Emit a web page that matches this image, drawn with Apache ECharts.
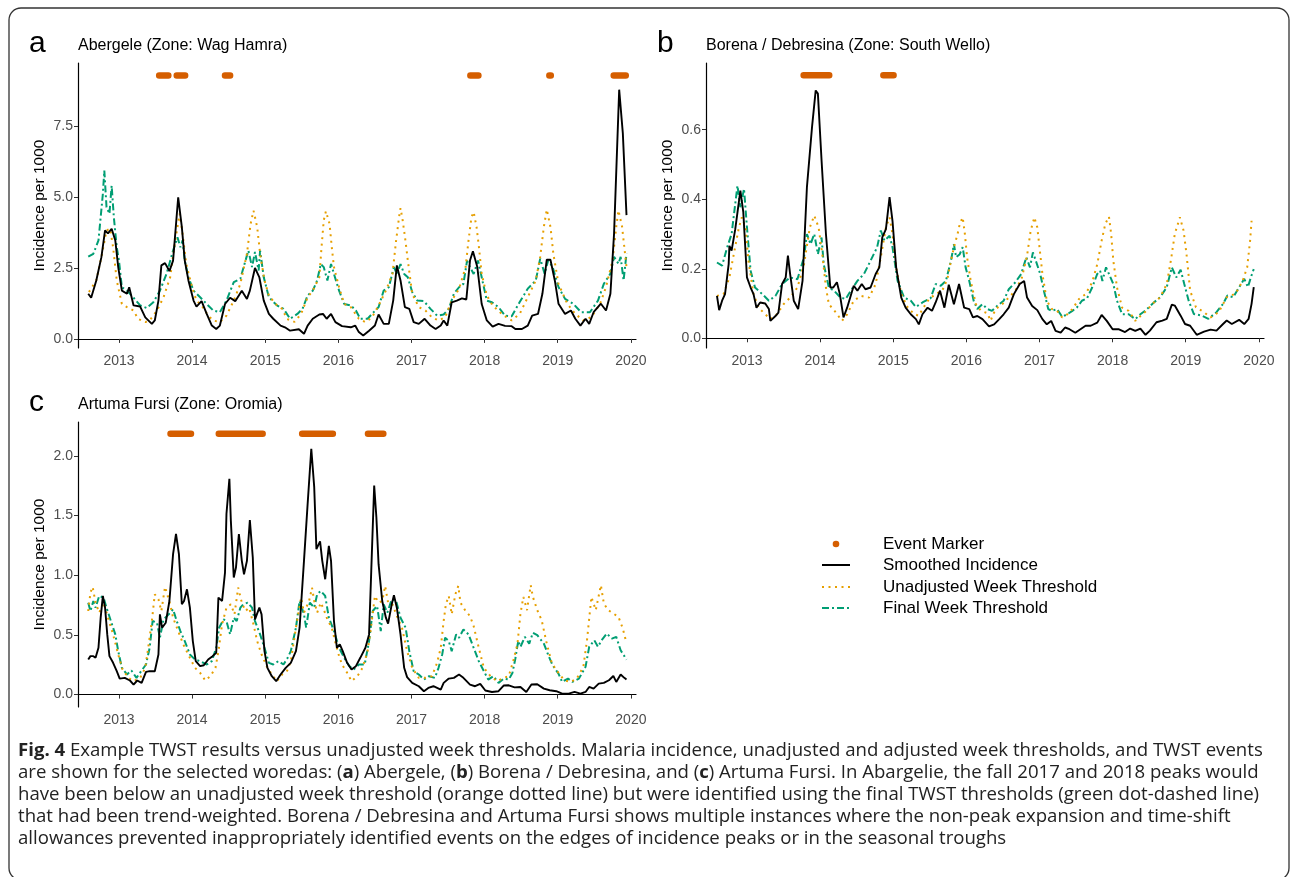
<!DOCTYPE html>
<html>
<head>
<meta charset="utf-8">
<script src="https://cdn.jsdelivr.net/npm/echarts@6/dist/echarts.min.js"></script>
<style>
html, body { margin: 0; padding: 0; background: #fff; }
#fig { width: 1292px; height: 877px; }
</style>
</head>
<body>
<div id="fig"></div>
<script>
// x values are decimal years (week of the series)
var yearTicks = [2013, 2014, 2015, 2016, 2017, 2018, 2019, 2020];

// panel a - Abergele
var aTicks = [0, 2.5, 5, 7.5];
var aEventLevel = 9.28;
var aEvents = [[2013.55, 2013.675], [2013.79, 2013.905], [2014.45, 2014.52], [2017.805, 2017.915], [2018.885, 2018.905], [2019.765, 2019.93]];
var aInc = [[2012.58,1.59],[2012.62,1.45],[2012.69,2.06],[2012.76,2.88],[2012.81,3.82],[2012.85,3.72],[2012.90,3.88],[2012.95,3.47],[2012.99,2.53],[2013.04,1.70],[2013.11,1.59],[2013.14,1.82],[2013.20,1.18],[2013.29,1.14],[2013.36,0.76],[2013.45,0.53],[2013.49,0.65],[2013.54,1.35],[2013.58,2.59],[2013.63,2.67],[2013.69,2.39],[2013.74,2.76],[2013.81,4.99],[2013.86,3.94],[2013.90,2.76],[2013.95,2.06],[2014.02,1.35],[2014.06,1.14],[2014.13,1.33],[2014.20,0.88],[2014.27,0.47],[2014.33,0.35],[2014.38,0.47],[2014.45,1.23],[2014.52,1.45],[2014.59,1.33],[2014.68,1.70],[2014.75,1.41],[2014.79,1.70],[2014.86,2.50],[2014.92,2.17],[2014.98,1.35],[2015.05,0.88],[2015.11,0.71],[2015.21,0.47],[2015.27,0.41],[2015.34,0.29],[2015.46,0.34],[2015.53,0.18],[2015.58,0.47],[2015.65,0.71],[2015.74,0.86],[2015.79,0.88],[2015.84,0.71],[2015.90,0.88],[2015.96,0.59],[2016.05,0.45],[2016.17,0.41],[2016.23,0.47],[2016.28,0.24],[2016.34,0.12],[2016.42,0.29],[2016.50,0.47],[2016.55,0.86],[2016.62,0.53],[2016.69,0.53],[2016.75,1.35],[2016.80,2.59],[2016.85,2.06],[2016.91,1.12],[2016.97,1.06],[2017.03,0.59],[2017.10,0.53],[2017.18,0.71],[2017.26,0.47],[2017.33,0.35],[2017.40,0.47],[2017.44,0.65],[2017.49,0.47],[2017.55,1.29],[2017.62,1.35],[2017.69,1.43],[2017.75,1.39],[2017.80,2.76],[2017.84,3.09],[2017.90,2.53],[2017.96,1.23],[2018.03,0.65],[2018.11,0.43],[2018.19,0.53],[2018.28,0.46],[2018.37,0.45],[2018.42,0.35],[2018.51,0.35],[2018.59,0.47],[2018.65,0.82],[2018.73,0.88],[2018.79,1.59],[2018.85,2.79],[2018.90,2.79],[2018.96,2.06],[2019.01,1.24],[2019.10,0.88],[2019.18,1.00],[2019.24,0.71],[2019.31,0.47],[2019.38,0.71],[2019.43,0.53],[2019.49,0.94],[2019.59,1.24],[2019.66,1.00],[2019.72,1.59],[2019.77,3.71],[2019.84,8.78],[2019.89,7.24],[2019.94,4.36]];
var aUnadj = [[2012.59,1.65],[2012.69,2.06],[2012.76,2.88],[2012.83,3.82],[2012.88,3.88],[2012.92,3.23],[2012.97,2.06],[2013.04,1.23],[2013.11,1.12],[2013.20,1.00],[2013.26,0.71],[2013.36,0.59],[2013.42,0.65],[2013.52,1.00],[2013.61,1.47],[2013.70,2.17],[2013.77,3.47],[2013.83,4.41],[2013.87,3.70],[2013.92,2.64],[2014.00,1.82],[2014.06,1.35],[2014.13,1.18],[2014.22,0.82],[2014.29,0.65],[2014.38,0.59],[2014.47,0.82],[2014.57,1.35],[2014.66,1.94],[2014.75,3.00],[2014.80,4.05],[2014.84,4.52],[2014.89,3.94],[2014.93,3.00],[2014.99,2.06],[2015.05,1.53],[2015.14,1.23],[2015.23,1.06],[2015.30,0.70],[2015.40,0.60],[2015.49,0.88],[2015.58,1.47],[2015.65,1.70],[2015.74,2.17],[2015.77,3.23],[2015.80,4.17],[2015.83,4.50],[2015.88,4.05],[2015.91,3.23],[2015.94,2.53],[2016.01,1.82],[2016.08,1.23],[2016.17,1.12],[2016.28,0.71],[2016.37,0.59],[2016.46,0.76],[2016.55,1.18],[2016.65,1.70],[2016.74,2.29],[2016.79,3.47],[2016.83,4.29],[2016.85,4.61],[2016.88,4.17],[2016.92,3.41],[2016.95,2.76],[2017.01,1.59],[2017.10,1.12],[2017.19,1.00],[2017.28,0.76],[2017.37,0.65],[2017.46,0.76],[2017.55,1.35],[2017.65,1.76],[2017.74,2.53],[2017.78,3.47],[2017.82,4.29],[2017.85,4.47],[2017.89,3.94],[2017.92,3.29],[2017.96,2.29],[2018.03,1.53],[2018.11,1.18],[2018.21,0.94],[2018.30,0.76],[2018.37,0.65],[2018.48,0.88],[2018.59,1.47],[2018.70,2.06],[2018.76,2.89],[2018.81,3.95],[2018.85,4.56],[2018.90,3.95],[2018.94,3.00],[2019.01,1.94],[2019.13,1.24],[2019.24,0.88],[2019.35,0.65],[2019.46,0.77],[2019.58,1.24],[2019.66,1.83],[2019.75,2.77],[2019.80,3.95],[2019.83,4.53],[2019.88,3.95],[2019.92,3.00],[2019.94,2.53]];
var aFinal = [[2012.58,2.90],[2012.65,3.00],[2012.72,3.47],[2012.78,5.11],[2012.80,5.93],[2012.83,4.64],[2012.87,4.41],[2012.90,5.40],[2012.93,4.29],[2012.97,3.23],[2013.00,2.76],[2013.04,1.82],[2013.11,1.70],[2013.20,1.45],[2013.29,1.18],[2013.38,1.09],[2013.47,1.29],[2013.56,1.70],[2013.65,2.29],[2013.74,3.11],[2013.80,3.58],[2013.84,3.23],[2013.87,3.47],[2013.90,2.76],[2013.95,2.17],[2014.02,1.70],[2014.11,1.47],[2014.20,1.23],[2014.29,1.00],[2014.38,0.94],[2014.47,1.35],[2014.57,2.00],[2014.66,2.12],[2014.73,2.76],[2014.77,3.11],[2014.82,2.53],[2014.86,3.06],[2014.91,2.41],[2014.93,3.11],[2014.98,2.17],[2015.05,1.47],[2015.16,1.18],[2015.25,1.06],[2015.34,0.71],[2015.44,0.88],[2015.51,1.06],[2015.58,1.53],[2015.65,1.70],[2015.71,2.06],[2015.76,2.64],[2015.80,2.53],[2015.85,2.06],[2015.90,2.64],[2015.94,2.29],[2016.01,1.70],[2016.08,1.23],[2016.17,1.18],[2016.24,1.00],[2016.30,0.71],[2016.40,0.71],[2016.46,0.88],[2016.55,1.12],[2016.62,1.70],[2016.69,1.82],[2016.76,2.53],[2016.80,2.29],[2016.85,2.64],[2016.90,2.29],[2016.95,2.17],[2017.01,1.65],[2017.08,1.35],[2017.17,1.33],[2017.26,1.06],[2017.35,0.82],[2017.44,0.86],[2017.51,1.06],[2017.58,1.59],[2017.65,1.82],[2017.71,1.94],[2017.76,2.76],[2017.80,2.53],[2017.85,2.29],[2017.91,2.76],[2017.96,2.17],[2018.03,1.35],[2018.10,1.29],[2018.19,1.12],[2018.28,0.82],[2018.37,0.80],[2018.48,1.30],[2018.59,1.77],[2018.70,2.06],[2018.76,2.83],[2018.82,2.30],[2018.87,2.77],[2018.93,2.53],[2019.01,1.83],[2019.10,1.41],[2019.21,1.24],[2019.32,0.94],[2019.44,0.94],[2019.55,1.35],[2019.63,1.94],[2019.72,2.30],[2019.77,2.89],[2019.83,2.65],[2019.86,2.89],[2019.90,2.06],[2019.94,3.00]];

// panel b - Borena / Debresina
var bTicks = [0, 0.2, 0.4, 0.6];
var bEventLevel = 0.757;
var bEvents = [[2013.775, 2014.125], [2014.865, 2015.005]];
var bInc = [[2012.59,0.122],[2012.62,0.081],[2012.66,0.108],[2012.70,0.127],[2012.75,0.213],[2012.76,0.266],[2012.79,0.252],[2012.84,0.314],[2012.91,0.425],[2012.95,0.363],[2013.00,0.175],[2013.05,0.146],[2013.09,0.127],[2013.13,0.088],[2013.18,0.103],[2013.25,0.100],[2013.30,0.084],[2013.32,0.050],[2013.39,0.064],[2013.43,0.074],[2013.48,0.156],[2013.53,0.175],[2013.56,0.238],[2013.59,0.185],[2013.64,0.108],[2013.70,0.084],[2013.76,0.165],[2013.82,0.435],[2013.89,0.608],[2013.94,0.713],[2013.97,0.704],[2014.02,0.512],[2014.08,0.300],[2014.14,0.146],[2014.18,0.146],[2014.23,0.161],[2014.27,0.127],[2014.32,0.060],[2014.37,0.088],[2014.46,0.151],[2014.51,0.137],[2014.57,0.156],[2014.62,0.141],[2014.69,0.146],[2014.76,0.185],[2014.81,0.204],[2014.85,0.290],[2014.90,0.314],[2014.95,0.406],[2014.99,0.338],[2015.04,0.204],[2015.11,0.117],[2015.17,0.088],[2015.24,0.069],[2015.31,0.055],[2015.35,0.040],[2015.40,0.069],[2015.47,0.088],[2015.53,0.079],[2015.58,0.103],[2015.64,0.137],[2015.70,0.088],[2015.76,0.154],[2015.83,0.098],[2015.90,0.156],[2015.97,0.088],[2016.04,0.084],[2016.09,0.060],[2016.15,0.064],[2016.22,0.055],[2016.31,0.034],[2016.38,0.040],[2016.45,0.055],[2016.51,0.069],[2016.58,0.088],[2016.65,0.127],[2016.73,0.156],[2016.79,0.165],[2016.83,0.117],[2016.90,0.093],[2016.97,0.081],[2017.04,0.055],[2017.10,0.040],[2017.16,0.050],[2017.22,0.021],[2017.29,0.016],[2017.35,0.031],[2017.41,0.026],[2017.49,0.016],[2017.56,0.026],[2017.63,0.036],[2017.70,0.036],[2017.79,0.045],[2017.85,0.067],[2017.92,0.050],[2018.00,0.026],[2018.08,0.026],[2018.17,0.018],[2018.24,0.028],[2018.31,0.021],[2018.38,0.028],[2018.45,0.010],[2018.51,0.022],[2018.60,0.046],[2018.68,0.051],[2018.74,0.056],[2018.81,0.097],[2018.85,0.094],[2018.93,0.065],[2018.99,0.041],[2019.06,0.036],[2019.15,0.010],[2019.25,0.019],[2019.34,0.025],[2019.42,0.022],[2019.51,0.041],[2019.56,0.051],[2019.63,0.041],[2019.73,0.053],[2019.80,0.041],[2019.86,0.056],[2019.90,0.099],[2019.93,0.147]];
var bUnadj = [[2012.59,0.122],[2012.68,0.127],[2012.76,0.175],[2012.82,0.242],[2012.89,0.319],[2012.93,0.348],[2012.98,0.319],[2013.02,0.223],[2013.09,0.127],[2013.16,0.088],[2013.25,0.069],[2013.32,0.055],[2013.41,0.069],[2013.50,0.098],[2013.59,0.117],[2013.69,0.146],[2013.78,0.213],[2013.86,0.319],[2013.92,0.353],[2013.98,0.319],[2014.03,0.242],[2014.08,0.146],[2014.12,0.098],[2014.19,0.081],[2014.30,0.050],[2014.37,0.069],[2014.46,0.108],[2014.56,0.122],[2014.67,0.117],[2014.76,0.156],[2014.83,0.233],[2014.90,0.319],[2014.95,0.348],[2014.99,0.300],[2015.04,0.204],[2015.11,0.127],[2015.20,0.088],[2015.29,0.069],[2015.35,0.065],[2015.40,0.084],[2015.49,0.113],[2015.58,0.127],[2015.67,0.137],[2015.74,0.170],[2015.79,0.223],[2015.83,0.262],[2015.88,0.300],[2015.91,0.329],[2015.95,0.348],[2015.98,0.300],[2016.01,0.233],[2016.06,0.165],[2016.13,0.098],[2016.20,0.079],[2016.29,0.072],[2016.33,0.050],[2016.40,0.084],[2016.49,0.098],[2016.58,0.117],[2016.67,0.137],[2016.76,0.175],[2016.83,0.238],[2016.88,0.310],[2016.93,0.348],[2016.97,0.319],[2017.00,0.262],[2017.04,0.185],[2017.10,0.108],[2017.17,0.084],[2017.24,0.079],[2017.31,0.060],[2017.38,0.069],[2017.45,0.084],[2017.54,0.113],[2017.63,0.127],[2017.72,0.161],[2017.79,0.213],[2017.85,0.281],[2017.90,0.329],[2017.95,0.350],[2017.98,0.300],[2018.01,0.223],[2018.06,0.146],[2018.13,0.088],[2018.22,0.079],[2018.31,0.050],[2018.38,0.064],[2018.45,0.077],[2018.57,0.104],[2018.65,0.118],[2018.74,0.156],[2018.80,0.228],[2018.85,0.300],[2018.92,0.348],[2018.97,0.310],[2019.01,0.243],[2019.06,0.137],[2019.14,0.089],[2019.25,0.075],[2019.34,0.060],[2019.45,0.075],[2019.56,0.118],[2019.68,0.128],[2019.78,0.166],[2019.84,0.204],[2019.88,0.281],[2019.90,0.338]];
var bFinal = [[2012.59,0.218],[2012.66,0.209],[2012.73,0.262],[2012.79,0.300],[2012.87,0.439],[2012.91,0.377],[2012.96,0.430],[2013.00,0.319],[2013.05,0.194],[2013.11,0.146],[2013.21,0.127],[2013.30,0.108],[2013.39,0.122],[2013.48,0.156],[2013.59,0.175],[2013.69,0.170],[2013.78,0.233],[2013.82,0.300],[2013.87,0.271],[2013.92,0.300],[2013.97,0.242],[2014.02,0.290],[2014.05,0.213],[2014.12,0.146],[2014.19,0.137],[2014.28,0.117],[2014.35,0.113],[2014.42,0.137],[2014.51,0.165],[2014.60,0.185],[2014.69,0.223],[2014.78,0.262],[2014.83,0.310],[2014.88,0.281],[2014.95,0.295],[2014.99,0.262],[2015.06,0.165],[2015.15,0.117],[2015.24,0.108],[2015.31,0.090],[2015.40,0.103],[2015.51,0.115],[2015.58,0.156],[2015.65,0.151],[2015.72,0.165],[2015.79,0.223],[2015.83,0.271],[2015.86,0.233],[2015.91,0.242],[2015.95,0.262],[2015.99,0.204],[2016.04,0.165],[2016.10,0.108],[2016.15,0.084],[2016.22,0.098],[2016.29,0.084],[2016.35,0.079],[2016.42,0.093],[2016.51,0.108],[2016.58,0.141],[2016.67,0.161],[2016.75,0.185],[2016.82,0.233],[2016.87,0.204],[2016.91,0.247],[2016.95,0.223],[2017.01,0.185],[2017.06,0.137],[2017.12,0.084],[2017.17,0.079],[2017.24,0.084],[2017.31,0.062],[2017.38,0.069],[2017.45,0.079],[2017.51,0.088],[2017.58,0.108],[2017.65,0.115],[2017.72,0.146],[2017.79,0.185],[2017.83,0.194],[2017.86,0.165],[2017.91,0.204],[2017.95,0.185],[2018.01,0.156],[2018.06,0.108],[2018.13,0.069],[2018.22,0.069],[2018.31,0.055],[2018.38,0.069],[2018.45,0.080],[2018.57,0.104],[2018.65,0.118],[2018.74,0.147],[2018.81,0.204],[2018.87,0.175],[2018.93,0.197],[2018.98,0.156],[2019.04,0.108],[2019.11,0.070],[2019.22,0.065],[2019.31,0.056],[2019.42,0.075],[2019.51,0.099],[2019.57,0.123],[2019.65,0.118],[2019.73,0.147],[2019.80,0.171],[2019.85,0.147],[2019.89,0.175],[2019.93,0.199]];

// panel c - Artuma Fursi
var cTicks = [0, 0.5, 1, 1.5, 2];
var cEventLevel = 2.185;
var cEvents = [[2013.705, 2013.985], [2014.365, 2014.965], [2015.505, 2015.925], [2016.405, 2016.615]];
var cInc = [[2012.58,0.294],[2012.61,0.322],[2012.65,0.322],[2012.68,0.308],[2012.72,0.392],[2012.75,0.644],[2012.78,0.826],[2012.81,0.728],[2012.84,0.504],[2012.87,0.322],[2012.92,0.266],[2012.97,0.196],[2013.01,0.134],[2013.08,0.140],[2013.15,0.118],[2013.20,0.084],[2013.25,0.118],[2013.31,0.098],[2013.37,0.190],[2013.42,0.196],[2013.49,0.196],[2013.54,0.336],[2013.56,0.672],[2013.59,0.560],[2013.64,0.602],[2013.69,0.784],[2013.74,1.176],[2013.78,1.345],[2013.82,1.176],[2013.86,0.756],[2013.89,0.784],[2013.93,0.882],[2013.97,0.728],[2014.01,0.448],[2014.05,0.280],[2014.11,0.238],[2014.16,0.246],[2014.22,0.294],[2014.28,0.322],[2014.33,0.350],[2014.36,0.812],[2014.41,0.784],[2014.45,1.022],[2014.47,1.513],[2014.51,1.807],[2014.53,1.457],[2014.57,0.980],[2014.60,1.064],[2014.64,1.345],[2014.68,1.120],[2014.71,1.008],[2014.75,1.120],[2014.79,1.462],[2014.83,1.148],[2014.86,0.630],[2014.92,0.728],[2014.95,0.672],[2014.99,0.364],[2015.03,0.224],[2015.09,0.154],[2015.15,0.112],[2015.21,0.168],[2015.28,0.224],[2015.35,0.266],[2015.42,0.364],[2015.47,0.560],[2015.53,1.120],[2015.58,1.597],[2015.63,2.059],[2015.67,1.737],[2015.70,1.218],[2015.75,1.283],[2015.78,1.120],[2015.82,0.966],[2015.87,1.246],[2015.90,1.120],[2015.94,0.616],[2015.98,0.392],[2016.02,0.420],[2016.06,0.364],[2016.12,0.266],[2016.18,0.210],[2016.24,0.238],[2016.30,0.308],[2016.37,0.392],[2016.42,0.504],[2016.45,1.036],[2016.49,1.751],[2016.52,1.485],[2016.55,1.092],[2016.60,0.784],[2016.65,0.644],[2016.68,0.594],[2016.73,0.756],[2016.76,0.832],[2016.80,0.728],[2016.85,0.504],[2016.90,0.224],[2016.94,0.146],[2017.01,0.098],[2017.10,0.070],[2017.17,0.028],[2017.23,0.056],[2017.30,0.070],[2017.40,0.042],[2017.44,0.098],[2017.51,0.134],[2017.58,0.140],[2017.65,0.168],[2017.71,0.140],[2017.80,0.084],[2017.87,0.070],[2017.94,0.090],[2018.01,0.034],[2018.10,0.022],[2018.19,0.028],[2018.26,0.076],[2018.33,0.078],[2018.41,0.060],[2018.49,0.064],[2018.57,0.022],[2018.64,0.084],[2018.72,0.087],[2018.81,0.050],[2018.89,0.036],[2018.98,0.028],[2019.06,0.008],[2019.15,0.008],[2019.23,0.022],[2019.31,0.008],[2019.38,0.022],[2019.43,0.064],[2019.49,0.050],[2019.56,0.092],[2019.63,0.098],[2019.70,0.120],[2019.76,0.156],[2019.80,0.106],[2019.86,0.168],[2019.91,0.140],[2019.94,0.126]];
var cUnadj = [[2012.58,0.700],[2012.61,0.854],[2012.64,0.902],[2012.68,0.770],[2012.73,0.686],[2012.79,0.770],[2012.85,0.644],[2012.92,0.504],[2012.99,0.336],[2013.05,0.210],[2013.13,0.140],[2013.20,0.112],[2013.29,0.140],[2013.36,0.224],[2013.40,0.392],[2013.45,0.616],[2013.49,0.840],[2013.54,0.798],[2013.58,0.700],[2013.63,0.902],[2013.66,0.840],[2013.70,0.756],[2013.74,0.644],[2013.81,0.532],[2013.88,0.420],[2013.97,0.308],[2014.04,0.224],[2014.11,0.182],[2014.18,0.118],[2014.25,0.154],[2014.32,0.224],[2014.36,0.364],[2014.41,0.588],[2014.47,0.728],[2014.53,0.756],[2014.58,0.672],[2014.63,0.896],[2014.68,0.770],[2014.73,0.700],[2014.78,0.728],[2014.84,0.588],[2014.89,0.448],[2014.95,0.336],[2015.02,0.238],[2015.09,0.168],[2015.16,0.112],[2015.23,0.168],[2015.30,0.200],[2015.35,0.280],[2015.42,0.560],[2015.49,0.812],[2015.53,0.686],[2015.60,0.784],[2015.64,0.896],[2015.67,0.784],[2015.71,0.686],[2015.76,0.770],[2015.80,0.714],[2015.85,0.630],[2015.91,0.560],[2015.96,0.434],[2016.01,0.322],[2016.05,0.252],[2016.12,0.182],[2016.18,0.112],[2016.26,0.154],[2016.33,0.224],[2016.40,0.364],[2016.44,0.532],[2016.50,0.826],[2016.55,0.770],[2016.60,0.784],[2016.64,0.910],[2016.68,0.770],[2016.74,0.756],[2016.80,0.658],[2016.87,0.560],[2016.94,0.364],[2017.01,0.224],[2017.10,0.140],[2017.19,0.140],[2017.28,0.154],[2017.35,0.266],[2017.40,0.392],[2017.44,0.616],[2017.47,0.756],[2017.51,0.826],[2017.55,0.672],[2017.60,0.840],[2017.64,0.910],[2017.67,0.770],[2017.74,0.700],[2017.80,0.658],[2017.85,0.574],[2017.92,0.392],[2017.99,0.224],[2018.08,0.154],[2018.17,0.112],[2018.26,0.140],[2018.33,0.154],[2018.40,0.300],[2018.45,0.427],[2018.49,0.679],[2018.53,0.818],[2018.58,0.707],[2018.63,0.916],[2018.66,0.818],[2018.72,0.707],[2018.78,0.623],[2018.85,0.427],[2018.92,0.260],[2019.01,0.182],[2019.09,0.120],[2019.18,0.106],[2019.26,0.134],[2019.35,0.232],[2019.40,0.455],[2019.46,0.818],[2019.52,0.707],[2019.59,0.916],[2019.63,0.763],[2019.69,0.707],[2019.76,0.679],[2019.83,0.651],[2019.89,0.553],[2019.93,0.455]];
var cFinal = [[2012.58,0.770],[2012.61,0.700],[2012.65,0.784],[2012.68,0.728],[2012.73,0.826],[2012.79,0.812],[2012.83,0.728],[2012.89,0.616],[2012.95,0.504],[2012.99,0.364],[2013.04,0.224],[2013.11,0.168],[2013.17,0.202],[2013.24,0.140],[2013.31,0.202],[2013.37,0.252],[2013.42,0.392],[2013.46,0.616],[2013.52,0.602],[2013.56,0.476],[2013.61,0.630],[2013.68,0.672],[2013.74,0.714],[2013.79,0.616],[2013.84,0.532],[2013.90,0.448],[2013.97,0.336],[2014.04,0.294],[2014.11,0.280],[2014.20,0.252],[2014.27,0.280],[2014.33,0.392],[2014.37,0.560],[2014.43,0.630],[2014.47,0.616],[2014.52,0.504],[2014.57,0.644],[2014.61,0.616],[2014.66,0.728],[2014.70,0.756],[2014.76,0.770],[2014.82,0.728],[2014.86,0.616],[2014.93,0.504],[2014.99,0.392],[2015.05,0.266],[2015.11,0.252],[2015.18,0.280],[2015.25,0.252],[2015.30,0.300],[2015.35,0.364],[2015.42,0.560],[2015.47,0.784],[2015.53,0.672],[2015.56,0.560],[2015.61,0.770],[2015.67,0.728],[2015.71,0.840],[2015.76,0.868],[2015.82,0.826],[2015.87,0.644],[2015.94,0.532],[2016.01,0.392],[2016.08,0.308],[2016.15,0.238],[2016.21,0.210],[2016.28,0.252],[2016.36,0.252],[2016.42,0.448],[2016.47,0.700],[2016.53,0.742],[2016.58,0.532],[2016.62,0.756],[2016.67,0.686],[2016.73,0.798],[2016.79,0.784],[2016.85,0.644],[2016.92,0.560],[2016.97,0.364],[2017.03,0.196],[2017.10,0.168],[2017.17,0.126],[2017.24,0.154],[2017.32,0.140],[2017.37,0.224],[2017.42,0.336],[2017.46,0.476],[2017.51,0.448],[2017.55,0.364],[2017.61,0.504],[2017.65,0.476],[2017.71,0.546],[2017.78,0.504],[2017.85,0.392],[2017.92,0.280],[2017.99,0.196],[2018.05,0.126],[2018.12,0.154],[2018.19,0.098],[2018.26,0.134],[2018.33,0.126],[2018.38,0.180],[2018.42,0.300],[2018.46,0.450],[2018.49,0.400],[2018.55,0.483],[2018.61,0.427],[2018.66,0.517],[2018.72,0.497],[2018.81,0.427],[2018.88,0.316],[2018.93,0.246],[2019.01,0.176],[2019.06,0.106],[2019.14,0.134],[2019.20,0.106],[2019.29,0.134],[2019.38,0.232],[2019.43,0.400],[2019.50,0.455],[2019.55,0.400],[2019.60,0.455],[2019.67,0.511],[2019.74,0.469],[2019.80,0.483],[2019.86,0.371],[2019.94,0.293]];

var panels = [
	{ letter: 'a', title: 'Abergele (Zone: Wag Hamra)', ticks: aTicks, min: -0.32, max: 9.72, inc: aInc, unadj: aUnadj, fin: aFinal, events: aEvents, level: aEventLevel, left: 78, top: 63 },
	{ letter: 'b', title: 'Borena / Debresina (Zone: South Wello)', ticks: bTicks, min: -0.028, max: 0.792, inc: bInc, unadj: bUnadj, fin: bFinal, events: bEvents, level: bEventLevel, left: 706, top: 63 },
	{ letter: 'c', title: 'Artuma Fursi (Zone: Oromia)', ticks: cTicks, min: -0.104, max: 2.283, inc: cInc, unadj: cUnadj, fin: cFinal, events: cEvents, level: cEventLevel, left: 78, top: 422 }
];

var BLACK = '#000000', ORANGE = '#E69F00', GREEN = '#009E73', RED = '#D55E00';
var FONT = '"Liberation Sans", Arial, sans-serif';

// event runs -> line segments broken by empty points
function eventLine(events, level) {
	var out = [];
	for (var i = 0; i < events.length; i++) {
		out.push([events[i][0], level]);
		out.push([events[i][1], level]);
		out.push([events[i][1], '-']);
	}
	return out;
}

var grids = [], xAxes = [], yAxes = [], series = [], graphics = [];
for (var i = 0; i < panels.length; i++) {
	var p = panels[i];
	grids.push({ left: p.left, top: p.top, width: 558, height: 285 });
	xAxes.push({
		type: 'value', gridIndex: i, min: 2012.44, max: 2020.07,
		axisLine: { lineStyle: { color: '#000', width: 1.2 } },
		axisTick: { customValues: yearTicks, length: 4, lineStyle: { color: '#333' } },
		axisLabel: { customValues: yearTicks, color: '#4d4d4d', fontSize: 14, fontFamily: FONT, margin: 6, formatter: function (v) { return String(Math.round(v)); } },
		splitLine: { show: false }
	});
	yAxes.push({
		type: 'value', gridIndex: i, min: p.min, max: p.max,
		name: 'Incidence per 1000', nameLocation: 'middle', nameGap: 30,
		nameTextStyle: { color: '#000', fontSize: 15.5, fontFamily: FONT },
		axisLine: { show: true, lineStyle: { color: '#000', width: 1.2 } },
		axisTick: { show: true, customValues: p.ticks, length: 4, lineStyle: { color: '#333' } },
		axisLabel: { customValues: p.ticks, color: '#4d4d4d', fontSize: 14, fontFamily: FONT, margin: 5, formatter: function (v) { return v.toFixed(1); } },
		splitLine: { show: false }
	});
	series.push({ type: 'line', xAxisIndex: i, yAxisIndex: i, data: p.fin, showSymbol: false, lineStyle: { color: GREEN, width: 2, type: [7, 3, 2, 3] } });
	series.push({ type: 'line', xAxisIndex: i, yAxisIndex: i, data: p.unadj, showSymbol: false, lineStyle: { color: ORANGE, width: 2, type: [2, 4.5] } });
	series.push({ type: 'line', xAxisIndex: i, yAxisIndex: i, data: p.inc, showSymbol: false, lineStyle: { color: BLACK, width: 1.9 } });
	series.push({ type: 'line', xAxisIndex: i, yAxisIndex: i, data: eventLine(p.events, p.level), showSymbol: false, connectNulls: false, lineStyle: { color: RED, width: 6.5, cap: 'round' } });

	graphics.push({ type: 'text', left: p.left - 49, top: p.top - 34, style: { text: p.letter, font: '30px ' + FONT, fill: '#000' } });
	graphics.push({ type: 'text', left: p.left, top: p.top - 25, style: { text: p.title, font: '16px ' + FONT, fill: '#000' } });
}

// legend
var legendItems = ['Event Marker', 'Smoothed Incidence', 'Unadjusted Week Threshold', 'Final Week Threshold'];
var legendY = [544, 565, 587, 608];
graphics.push({ type: 'circle', shape: { cx: 836, cy: legendY[0], r: 3.3 }, style: { fill: RED } });
graphics.push({ type: 'line', shape: { x1: 822, y1: legendY[1], x2: 850, y2: legendY[1] }, style: { stroke: BLACK, lineWidth: 2 } });
graphics.push({ type: 'line', shape: { x1: 822, y1: legendY[2], x2: 850, y2: legendY[2] }, style: { stroke: ORANGE, lineWidth: 2, lineDash: [2, 4.5] } });
graphics.push({ type: 'line', shape: { x1: 822, y1: legendY[3], x2: 850, y2: legendY[3] }, style: { stroke: GREEN, lineWidth: 2, lineDash: [7, 3, 2, 3] } });
for (var k = 0; k < legendItems.length; k++) {
	graphics.push({ type: 'text', x: 883, y: legendY[k], style: { text: legendItems[k], font: '17px ' + FONT, fill: '#000', textVerticalAlign: 'middle' } });
}

// caption
var CAP = '"Open Sans", "Noto Sans", sans-serif';
var captionLines = [
	'{b|Fig. 4} Example TWST results versus unadjusted week thresholds. Malaria incidence, unadjusted and adjusted week thresholds, and TWST events',
	'are shown for the selected woredas: ({b|a}) Abergele, ({b|b}) Borena / Debresina, and ({b|c}) Artuma Fursi. In Abargelie, the fall 2017 and 2018 peaks would',
	'have been below an unadjusted week threshold (orange dotted line) but were identified using the final TWST thresholds (green dot-dashed line)',
	'that had been trend-weighted. Borena / Debresina and Artuma Fursi shows multiple instances where the non-peak expansion and time-shift',
	'allowances prevented inappropriately identified events on the edges of incidence peaks or in the seasonal troughs'
];
for (var j = 0; j < captionLines.length; j++) {
	graphics.push({
		type: 'text', x: 18, y: 751 + j * 22,
		style: {
			text: captionLines[j], font: '18.6px ' + CAP, fill: '#222', textVerticalAlign: 'middle',
			rich: { b: { font: 'bold 18.6px ' + CAP, fill: '#222' } }
		}
	});
}

// outer frame
graphics.push({ type: 'rect', shape: { x: 9, y: 8, width: 1280, height: 872, r: 12 }, style: { fill: 'none', stroke: '#333', lineWidth: 1.3 }, z: -1 });

var chart = echarts.init(document.getElementById('fig'));
chart.setOption({
	animation: false,
	backgroundColor: '#fff',
	grid: grids,
	xAxis: xAxes,
	yAxis: yAxes,
	series: series,
	graphic: graphics
});
</script>
</body>
</html>
